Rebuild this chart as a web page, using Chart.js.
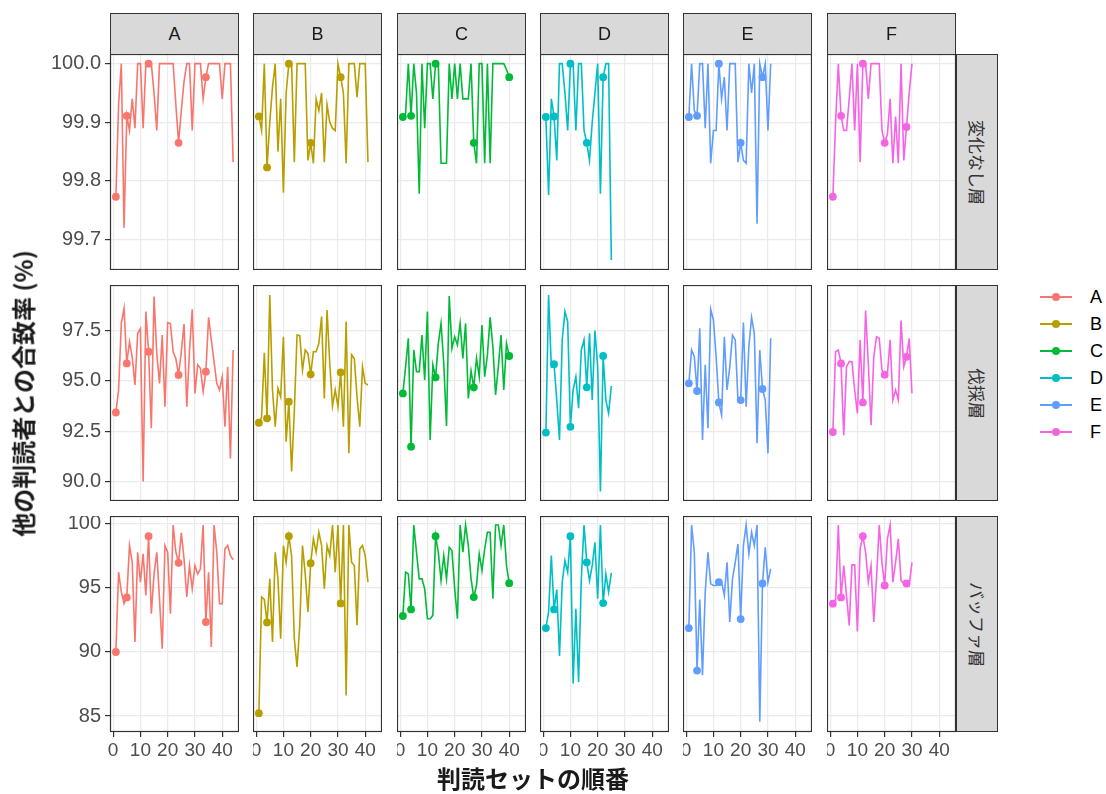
<!DOCTYPE html>
<html>
<head>
<meta charset="utf-8">
<script src="https://cdn.jsdelivr.net/npm/chart.js@4.4.0/dist/chart.umd.min.js"></script>
<style>
  body { margin: 0; background: #fff; width: 1106px; height: 794px; position: relative; overflow: hidden; font-family: "Liberation Sans", Arial, sans-serif; }
  canvas { position: absolute; }
  .strip { position: absolute; background: #D9D9D9; border: 1px solid #333; box-sizing: border-box; color: #1A1A1A; display: flex; align-items: center; justify-content: center; }
  .strip.top { font-size: 18px; }
  .strip.side span { writing-mode: vertical-rl; text-orientation: sideways; font-family: "Noto Sans CJK JP", sans-serif; font-size: 17px; color: #333; }
  .title { position: absolute; font-family: "Noto Sans CJK JP", sans-serif; font-weight: bold; font-size: 24px; color: #1A1A1A; white-space: nowrap; }
  .leg { position: absolute; left: 1040px; width: 70px; height: 20px; }
  .leg .ln { position: absolute; left: 0; top: 9px; width: 32px; height: 1.6px; }
  .leg .dt { position: absolute; left: 12px; top: 6px; width: 8px; height: 8px; border-radius: 50%; }
  .leg .tx { position: absolute; left: 50px; top: 0; font-size: 18px; line-height: 20px; color: #000; }
</style>
</head>
<body>
<script>
// facets
const readers = ["A", "B", "C", "D", "E", "F"];
const strata = ["変化なし層", "伐採層", "バッファ層"];
const colors = ["#F8766D", "#B79F00", "#00BA38", "#00BFC4", "#619CFF", "#F564E3"];

// tick labels
const xTicks = [0, 10, 20, 30, 40];
const yTicks = [[99.7, 99.8, 99.9, 100.0], [90.0, 92.5, 95.0, 97.5], [85, 90, 95, 100]];
const yDecimals = [1, 1, 0];
const yRange = [[99.648, 100.0165], [89.03, 99.77], [83.75, 100.62]];

// sets marked with a dot, per reader
const dotsA = [1, 5, 13, 24, 34];
const dotsB = [1, 4, 12, 20, 31];
const dotsC = [1, 4, 13, 27, 40];
const dotsD = [1, 4, 10, 16, 22];
const dotsE = [1, 4, 12, 20, 28];
const dotsF = [1, 4, 12, 20, 28];

// 変化なし層
const nochA = [99.773, 99.93, 100, 99.72, 99.911, 99.886, 99.94, 99.89, 100, 100, 99.89, 100, 100, 100, 99.95, 99.886, 100, 100, 100, 100, 100, 100, 99.93, 99.865, 99.92, 99.97, 100, 100, 99.886, 100, 100, 100, 99.94, 99.977, 100, 100, 100, 100, 100, 99.94, 100, 100, 100, 99.832];
const nochB = [99.91, 99.886, 100, 99.823, 99.90, 99.96, 100, 99.85, 99.94, 99.78, 99.95, 100, 100, 99.832, 100, 100, 100, 100, 99.835, 99.865, 99.83, 99.94, 99.92, 99.95, 99.832, 99.93, 99.90, 99.89, 99.886, 100, 99.977, 99.95, 99.83, 100, 100, 100, 99.943, 100, 100, 100, 99.832];
const nochC = [99.909, 99.915, 100, 99.911, 100, 99.95, 99.778, 100, 99.89, 100, 100, 99.94, 100, 100, 99.83, 99.83, 99.83, 100, 99.94, 100, 99.94, 100, 99.94, 99.94, 99.94, 100, 99.865, 99.83, 100, 100, 99.83, 100, 99.83, 100, 100, 100, 100, 100, 99.99, 99.977];
const nochD = [99.909, 99.776, 99.94, 99.91, 99.835, 100, 100, 99.95, 99.886, 100, 100, 99.886, 100, 100, 99.886, 99.865, 99.835, 99.9, 99.95, 100, 99.778, 99.977, 100, 100, 99.665];
const nochE = [99.909, 100, 99.92, 99.911, 100, 100, 99.89, 100, 99.83, 99.886, 99.886, 100, 99.94, 99.977, 99.886, 100, 100, 100, 99.832, 99.865, 99.835, 99.83, 100, 99.95, 100, 99.727, 100, 99.977, 100, 99.886, 100];
const nochF = [99.773, 99.9, 100, 99.911, 99.886, 99.886, 99.94, 100, 99.886, 100, 99.832, 100, 100, 99.94, 100, 100, 100, 100, 99.886, 99.865, 99.88, 99.94, 99.83, 99.91, 99.83, 100, 99.835, 99.892, 99.95, 100];

// 伐採層
const cutA = [93.43, 94.55, 97.86, 98.61, 95.87, 96.95, 96.2, 94.8, 97.37, 97.6, 90.0, 98.45, 96.45, 92.65, 99.2, 96.37, 94.88, 97.28, 93.72, 97.9, 97.85, 96.45, 96.1, 95.3, 96.45, 97.83, 93.72, 96.5, 98.56, 94.38, 95.8, 95.63, 94.47, 95.46, 98.16, 97.04, 95.96, 94.88, 94.55, 95.2, 92.72, 95.7, 91.15, 96.54];
const cutB = [92.92, 93.2, 96.4, 93.14, 99.27, 94.55, 92.72, 94.63, 94.2, 97.2, 91.98, 93.97, 90.5, 93.5, 97.28, 97.25, 95.54, 96.54, 96.37, 95.33, 96.45, 96.45, 96.87, 98.2, 94.13, 98.53, 95.87, 93.75, 94.55, 93.72, 95.43, 92.72, 97.95, 91.4, 96.3, 96.1, 94.2, 92.72, 95.7, 94.88, 94.8];
const cutC = [94.38, 95.7, 97.12, 91.73, 96.54, 95.46, 95.46, 97.28, 95.05, 98.45, 92.06, 95.8, 95.18, 96.87, 97.86, 95.87, 92.76, 99.22, 96.62, 97.2, 96.79, 97.86, 96.12, 97.86, 94.13, 95.5, 94.68, 96.12, 95.21, 97.78, 95.21, 96.29, 98.16, 96.7, 94.3, 95.7, 97.28, 94.55, 96.87, 96.24];
const cutD = [92.43, 99.27, 95.7, 95.83, 94.05, 92.06, 97.04, 98.45, 97.95, 92.72, 94.55, 95.21, 93.64, 96.54, 97.04, 94.68, 97.37, 94.05, 97.5, 95.7, 89.5, 96.24, 94.05, 93.39, 94.75];
const cutE = [94.88, 96.54, 96.2, 94.5, 97.62, 92.06, 95.8, 92.65, 98.56, 98.03, 96.2, 93.93, 93.3, 97.2, 94.55, 95.7, 97.28, 97.04, 94.05, 94.05, 97.9, 93.72, 96.7, 98.16, 97.37, 91.9, 96.54, 94.6, 94.05, 91.4, 97.12];
const cutF = [92.46, 96.45, 96.54, 95.87, 92.3, 95.7, 95.96, 95.96, 94.55, 93.39, 97.04, 93.93, 98.5, 95.87, 92.8, 96.2, 97.2, 97.12, 95.54, 95.31, 95.37, 97.04, 94.05, 94.55, 94.05, 98.0, 95.7, 96.2, 97.12, 94.38];

// バッファ層
const bufA = [90.0, 96.23, 94.7, 93.77, 94.26, 98.31, 97.0, 90.78, 97.79, 95.45, 97.66, 94.42, 99.04, 92.99, 96.1, 97.79, 94.16, 90.26, 98.31, 97.79, 92.99, 99.92, 97.79, 96.96, 99.3, 97.27, 94.29, 96.75, 94.94, 96.75, 96.1, 96.49, 99.92, 92.34, 96.23, 90.39, 99.92, 97.79, 93.77, 93.77, 98.05, 98.31, 97.53, 97.2];
const bufB = [85.22, 94.29, 94.1, 92.31, 95.71, 90.78, 97.79, 95.71, 91.04, 98.31, 97.0, 99.04, 97.53, 91.04, 88.83, 92.08, 98.31, 96.1, 93.12, 96.93, 98.83, 97.79, 99.35, 98.31, 94.94, 98.31, 97.53, 99.92, 96.23, 99.92, 93.79, 99.92, 86.6, 99.92, 97.0, 96.75, 92.08, 98.05, 98.31, 97.53, 95.45];
const bufC = [92.81, 96.23, 96.1, 93.32, 99.92, 97.79, 95.71, 95.71, 94.94, 92.6, 92.6, 92.86, 99.04, 97.79, 95.58, 97.53, 95.71, 98.18, 97.92, 94.94, 92.6, 99.92, 97.79, 99.92, 98.31, 95.71, 94.29, 95.19, 97.66, 96.36, 98.05, 99.35, 99.35, 94.16, 99.92, 99.92, 98.31, 99.92, 96.75, 95.37];
const bufD = [91.87, 93.12, 97.53, 93.32, 94.88, 89.69, 95.45, 97.14, 96.23, 99.04, 87.53, 93.38, 87.66, 95.71, 99.92, 97.0, 95.58, 96.75, 98.57, 94.16, 99.92, 93.82, 96.1, 94.68, 96.18];
const bufE = [91.87, 99.92, 97.79, 88.55, 94.1, 88.18, 94.68, 97.79, 95.32, 95.19, 95.19, 95.45, 95.45, 94.42, 97.0, 92.34, 95.71, 97.0, 98.44, 92.57, 98.31, 99.92, 97.66, 99.35, 98.31, 99.92, 84.55, 95.35, 98.18, 95.45, 96.49];
const bufF = [93.77, 94.04, 99.92, 94.26, 96.75, 94.42, 92.08, 96.8, 96.8, 91.61, 98.05, 99.04, 97.79, 95.45, 96.75, 92.34, 95.71, 99.92, 97.0, 95.19, 98.83, 99.92, 95.45, 97.0, 98.83, 95.58, 95.37, 95.35, 95.19, 97.0];

const series = [
  [nochA, nochB, nochC, nochD, nochE, nochF],
  [cutA, cutB, cutC, cutD, cutE, cutF],
  [bufA, bufB, bufC, bufD, bufE, bufF]
];
const dots = [dotsA, dotsB, dotsC, dotsD, dotsE, dotsF];

// layout
const colLeft = [110, 253, 397, 540, 683, 827];
const rowTop = [54, 285, 516];
const PW = 129, PH = 216;
const AXIS_W = 110, AXIS_H = 62;

const frame = {
  id: "frame",
  afterDraw(chart) {
    const a = chart.chartArea, g = chart.ctx;
    g.save();
    g.strokeStyle = "#333333";
    g.lineWidth = 1.2;
    g.strokeRect(a.left + 0.5, a.top + 0.5, a.right - a.left - 1, a.bottom - a.top - 1);
    g.restore();
  }
};

for (let r = 0; r < 3; r++) {
  for (let c = 0; c < 6; c++) {
    const showY = c === 0, showX = r === 2;
    const cv = document.createElement("canvas");
    const w = PW + (showY ? AXIS_W : 0);
    const h = PH + (showX ? AXIS_H : 0);
    cv.width = w; cv.height = h;
    cv.style.left = (colLeft[c] - (showY ? AXIS_W : 0)) + "px";
    cv.style.top = rowTop[r] + "px";
    cv.style.width = w + "px"; cv.style.height = h + "px";
    document.body.appendChild(cv);

    const vals = series[r][c];
    const marks = dots[c];
    new Chart(cv, {
      type: "line",
      data: {
        datasets: [{
          data: vals.map((v, i) => ({ x: i + 1, y: v })),
          borderColor: colors[c],
          backgroundColor: colors[c],
          borderWidth: 1.6,
          tension: 0,
          pointRadius: vals.map((v, i) => marks.includes(i + 1) ? 3.9 : 0),
          pointBorderWidth: 0,
          pointBackgroundColor: colors[c]
        }]
      },
      options: {
        responsive: false,
        animation: false,
        events: [],
        layout: { padding: 0, autoPadding: false },
        plugins: { legend: { display: false }, tooltip: { enabled: false } },
        scales: {
          x: {
            type: "linear",
            min: -1.15, max: 46.15,
            afterBuildTicks: s => { s.ticks = xTicks.map(v => ({ value: v })); },
            afterFit: s => { s.height = showX ? AXIS_H : 0; s.paddingLeft = 0; s.paddingRight = 0; },
            border: { display: false },
            grid: { color: "#EBEBEB", lineWidth: 1.2, drawTicks: showX, tickLength: 5, tickColor: "#333333", tickWidth: 1.2 },
            ticks: { display: showX, color: "#4D4D4D", font: { family: "Liberation Sans", size: 19 }, padding: 2, maxRotation: 0, autoSkip: false }
          },
          y: {
            type: "linear",
            min: yRange[r][0], max: yRange[r][1],
            afterBuildTicks: s => { s.ticks = yTicks[r].map(v => ({ value: v })); },
            afterFit: s => { s.width = showY ? AXIS_W : 0; s.paddingTop = 0; s.paddingBottom = 0; },
            border: { display: false },
            grid: { color: "#EBEBEB", lineWidth: 1.2, drawTicks: showY, tickLength: 5, tickColor: "#333333", tickWidth: 1.2 },
            ticks: {
              display: showY, color: "#4D4D4D", font: { family: "Liberation Sans", size: 20 }, padding: 4,
              callback: v => Number(v).toFixed(yDecimals[r])
            }
          }
        }
      },
      plugins: [frame]
    });
  }
}

// strips
readers.forEach((name, c) => {
  const d = document.createElement("div");
  d.className = "strip top";
  Object.assign(d.style, { left: colLeft[c] + "px", top: "13px", width: PW + "px", height: "42px" });
  d.textContent = name;
  document.body.appendChild(d);
});
strata.forEach((name, r) => {
  const d = document.createElement("div");
  d.className = "strip side";
  Object.assign(d.style, { left: "956px", top: rowTop[r] + "px", width: "42px", height: PH + "px" });
  const s = document.createElement("span");
  s.textContent = name;
  d.appendChild(s);
  document.body.appendChild(d);
});

// axis titles
const xt = document.createElement("div");
xt.className = "title";
xt.textContent = "判読セットの順番";
document.body.appendChild(xt);
xt.style.left = (533 - xt.offsetWidth / 2) + "px";
xt.style.top = "760px";

const yt = document.createElement("div");
yt.className = "title";
yt.textContent = "他の判読者との合致率 (%)";
document.body.appendChild(yt);
yt.style.left = (22 - yt.offsetWidth / 2) + "px";
yt.style.top = (393 - yt.offsetHeight / 2) + "px";
yt.style.transform = "rotate(-90deg)";

// legend
readers.forEach((name, i) => {
  const d = document.createElement("div");
  d.className = "leg";
  d.style.top = (287 + i * 27) + "px";
  d.innerHTML = '<div class="ln" style="background:' + colors[i] + '"></div><div class="dt" style="background:' + colors[i] + '"></div><div class="tx">' + name + '</div>';
  document.body.appendChild(d);
});
</script>
</body>
</html>
